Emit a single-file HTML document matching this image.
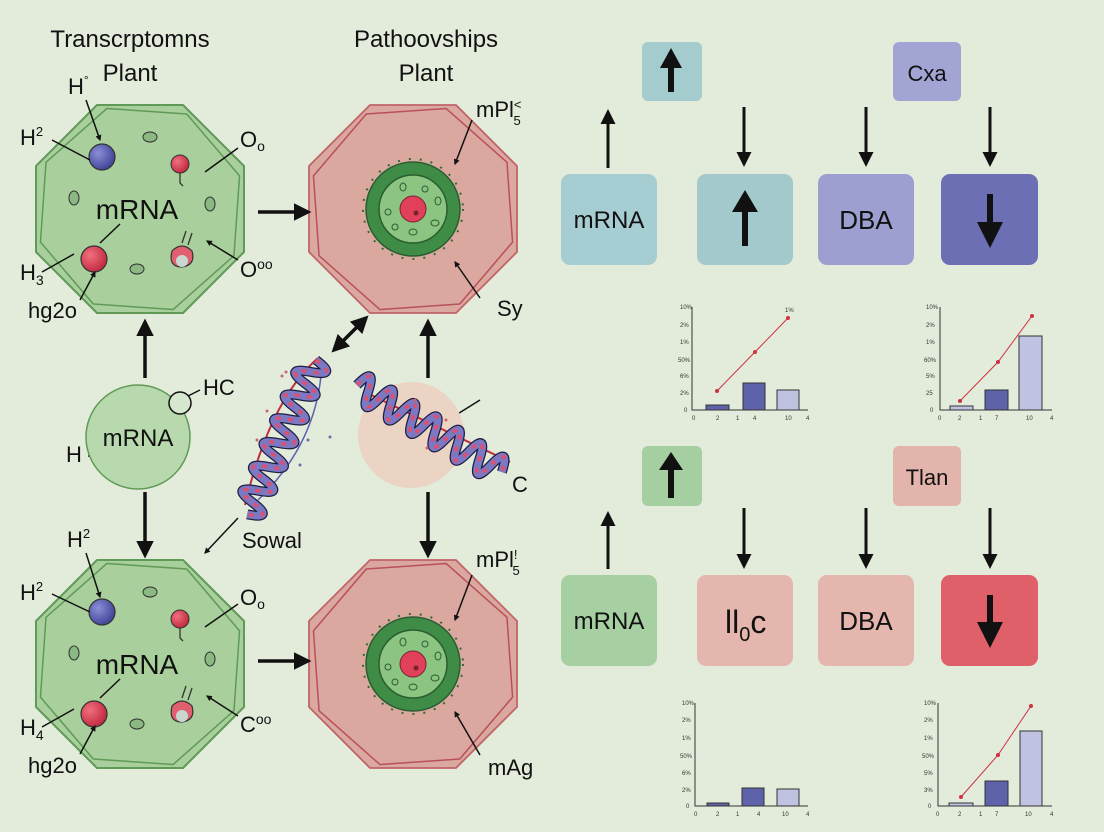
<!DOCTYPE html>
<html><head><meta charset="utf-8"><style>
html,body{margin:0;padding:0;background:#e3ebdb;}
svg{display:block;font-family:"Liberation Sans",sans-serif;}
</style></head><body>
<svg width="1104" height="832" viewBox="0 0 1104 832" xmlns="http://www.w3.org/2000/svg">
<defs>
<marker id="ah" viewBox="0 0 10 10" refX="8" refY="5" markerWidth="4" markerHeight="4" orient="auto-start-reverse"><path d="M0,0 L10,5 L0,10 z" fill="#111"/></marker>
<marker id="as" viewBox="0 0 10 10" refX="8" refY="5" markerWidth="5" markerHeight="5" orient="auto-start-reverse"><path d="M0,0 L10,5 L0,10 z" fill="#111"/></marker>
<radialGradient id="gb" cx="0.35" cy="0.35" r="0.7"><stop offset="0" stop-color="#8a8fd6"/><stop offset="1" stop-color="#3e4296"/></radialGradient>
<radialGradient id="gr" cx="0.35" cy="0.35" r="0.7"><stop offset="0" stop-color="#f07080"/><stop offset="1" stop-color="#c0283c"/></radialGradient>
<g id="gcell">
<polygon points="-43,-104 43,-104 104,-43 104,43 43,104 -43,104 -104,43 -104,-43" fill="#a9cf9c" stroke="#5f9a57" stroke-width="2" stroke-linejoin="round"/>
<polygon points="-40,-98 40,-98 97,-40 97,40 40,98 -40,98 -97,40 -97,-40" fill="none" stroke="#5f9a57" stroke-width="1.5" stroke-linejoin="round" transform="rotate(4)"/>
<circle cx="-38" cy="-52" r="13" fill="url(#gb)" stroke="#333" stroke-width="1.2"/>
<circle cx="40" cy="-45" r="9" fill="url(#gr)" stroke="#333" stroke-width="1"/>
<path d="M40,-36 v10 l3,3" stroke="#333" fill="none" stroke-width="1.3"/>
<circle cx="-46" cy="50" r="13" fill="url(#gr)" stroke="#333" stroke-width="1.2"/>
<path d="M32,42 q10,-10 20,0 q4,14 -10,16 q-14,0 -10,-16z" fill="#e06070" stroke="#333" stroke-width="1.2"/>
<circle cx="42" cy="52" r="6" fill="#c8d8d0"/>
<path d="M42,34 l4,-12 M48,36 l4,-12" stroke="#333" stroke-width="1.3"/>
<ellipse cx="10" cy="-72" rx="7" ry="5" fill="#8cb983" stroke="#333"/>
<ellipse cx="-66" cy="-11" rx="5" ry="7" fill="#8cb983" stroke="#333"/>
<ellipse cx="70" cy="-5" rx="5" ry="7" fill="#8cb983" stroke="#333"/>
<ellipse cx="-3" cy="60" rx="7" ry="5" fill="#8cb983" stroke="#333"/>
<text x="-3" y="10" font-size="28" text-anchor="middle" fill="#111">mRNA</text>
</g>
<g id="pcell">
<polygon points="-43,-104 43,-104 104,-43 104,43 43,104 -43,104 -104,43 -104,-43" fill="#dba8a0" stroke="#c06468" stroke-width="1.8" stroke-linejoin="round"/>
<polygon points="-40,-98 40,-98 97,-40 97,40 40,98 -40,98 -97,40 -97,-40" fill="none" stroke="#b8505a" stroke-width="1.5" stroke-linejoin="round" transform="rotate(-4)"/>
<circle r="50" fill="none" stroke="#2f6a35" stroke-width="2" stroke-dasharray="2 9"/>
<circle r="47" fill="#3f8c46" stroke="#2a5e30" stroke-width="1.5"/>
<circle r="34" fill="#8cc481" stroke="#2a5e30" stroke-width="1.5"/>
<circle r="13" fill="#e0405a" stroke="#7a2030"/>
<circle cx="3" cy="4" r="2.5" fill="#7a2030"/>
<ellipse cx="-10" cy="-22" rx="3" ry="4" fill="none" stroke="#2a5e30"/>
<ellipse cx="12" cy="-20" rx="3" ry="3" fill="none" stroke="#2a5e30"/>
<ellipse cx="25" cy="-8" rx="3" ry="4" fill="none" stroke="#2a5e30"/>
<ellipse cx="-25" cy="3" rx="3" ry="3" fill="none" stroke="#2a5e30"/>
<ellipse cx="-18" cy="18" rx="3" ry="3" fill="none" stroke="#2a5e30"/>
<ellipse cx="0" cy="23" rx="4" ry="3" fill="none" stroke="#2a5e30"/>
<ellipse cx="22" cy="14" rx="4" ry="3" fill="none" stroke="#2a5e30"/>
</g>
<g id="helix">
<path d="M0,0 q6.5,-28 13,0 t13,0 t13,0 t13,0 t13,0 t13,0 t13,0 t13,0 t13,0 t13,0 t13,0 t13,0 t13,0" fill="none" stroke="#1e1e40" stroke-width="10"/>
<path d="M0,0 q6.5,-28 13,0 t13,0 t13,0 t13,0 t13,0 t13,0 t13,0 t13,0 t13,0 t13,0 t13,0 t13,0 t13,0" fill="none" stroke="#7b78c4" stroke-width="7.5"/>
<path d="M0,0 q6.5,-28 13,0 t13,0 t13,0 t13,0 t13,0 t13,0 t13,0 t13,0 t13,0 t13,0 t13,0 t13,0 t13,0" fill="none" stroke="#dc5072" stroke-width="3.5" stroke-dasharray="5 7"/>
</g>
</defs>

<text x="130" y="47" font-size="24" text-anchor="middle" fill="#111">Transcrptomns</text>
<text x="130" y="81" font-size="24" text-anchor="middle" fill="#111">Plant</text>
<text x="426" y="47" font-size="24" text-anchor="middle" fill="#111">Pathoovships</text>
<text x="426" y="81" font-size="24" text-anchor="middle" fill="#111">Plant</text>

<use href="#gcell" x="140" y="209"/>
<use href="#gcell" x="140" y="664"/>
<use href="#pcell" x="413" y="209"/>
<use href="#pcell" x="413" y="664"/>

<g font-size="22" fill="#111">
<text x="68" y="94">H<tspan font-size="12" dy="-10">°</tspan></text>
<text x="20" y="145">H<tspan font-size="13" dy="-9">2</tspan></text>
<text x="240" y="147">O<tspan font-size="14" dy="4">o</tspan></text>
<text x="20" y="280">H<tspan font-size="14" dy="5">3</tspan></text>
<text x="28" y="318">hg2o</text>
<text x="240" y="277">O<tspan font-size="14" dy="-8">oo</tspan></text>
<text x="67" y="547">H<tspan font-size="13" dy="-9">2</tspan></text>
<text x="20" y="600">H<tspan font-size="13" dy="-9">2</tspan></text>
<text x="240" y="605">O<tspan font-size="14" dy="4">o</tspan></text>
<text x="20" y="735">H<tspan font-size="14" dy="5">4</tspan></text>
<text x="28" y="773">hg2o</text>
<text x="240" y="732">C<tspan font-size="14" dy="-8">oo</tspan></text>
<text x="476" y="117">mPl<tspan font-size="13" dy="-8">&lt;</tspan><tspan font-size="13" dx="-8" dy="16">5</tspan></text>
<text x="476" y="567">mPl<tspan font-size="13" dy="-8">!</tspan><tspan font-size="13" dx="-5" dy="16">5</tspan></text>
<text x="497" y="316">Sy</text>
<text x="488" y="775">mAg</text>
<text x="203" y="395">HC</text>
<text x="66" y="462">H</text>
<text x="512" y="492">C</text>
<text x="242" y="548">Sowal</text>
</g>
<g stroke="#111" stroke-width="1.5" fill="none">
<line x1="86" y1="100" x2="100" y2="140" marker-end="url(#ah)"/>
<line x1="52" y1="140" x2="90" y2="160"/>
<line x1="238" y1="148" x2="205" y2="172"/>
<line x1="42" y1="272" x2="74" y2="254"/>
<line x1="120" y1="224" x2="100" y2="243"/>
<line x1="80" y1="300" x2="95" y2="272" marker-end="url(#ah)"/>
<line x1="238" y1="260" x2="207" y2="241" marker-end="url(#ah)"/>
<line x1="86" y1="553" x2="100" y2="597" marker-end="url(#ah)"/>
<line x1="52" y1="594" x2="90" y2="612"/>
<line x1="238" y1="604" x2="205" y2="627"/>
<line x1="42" y1="727" x2="74" y2="709"/>
<line x1="120" y1="679" x2="100" y2="698"/>
<line x1="80" y1="754" x2="95" y2="726" marker-end="url(#ah)"/>
<line x1="238" y1="716" x2="207" y2="696" marker-end="url(#ah)"/>
<line x1="472" y1="120" x2="455" y2="164" marker-end="url(#ah)"/>
<line x1="472" y1="575" x2="455" y2="620" marker-end="url(#ah)"/>
<line x1="480" y1="298" x2="455" y2="262" marker-end="url(#ah)"/>
<line x1="480" y1="755" x2="455" y2="712" marker-end="url(#ah)"/>
<line x1="200" y1="390" x2="170" y2="405"/>
<line x1="88" y1="456" x2="106" y2="456"/><line x1="106" y1="456" x2="106" y2="462"/>
<line x1="480" y1="400" x2="440" y2="425"/>
<line x1="238" y1="518" x2="205" y2="553" marker-end="url(#ah)"/>
</g>

<circle cx="138" cy="437" r="52" fill="#b8d9ad" stroke="#5f9a57" stroke-width="1.5"/>
<circle cx="180" cy="403" r="11" fill="#d5e7cd" stroke="#111" stroke-width="1.5"/>
<text x="138" y="446" font-size="24" text-anchor="middle" fill="#111">mRNA</text>
<circle cx="411" cy="435" r="53" fill="#ecd4c4"/>

<path d="M318,358 Q270,400 245,505" stroke="#c0303c" stroke-width="2" fill="none"/>
<path d="M322,360 Q320,440 258,500" stroke="#5a60b0" stroke-width="1.5" fill="none"/>
<use href="#helix" transform="translate(316,360) rotate(114)"/>
<path d="M365,392 L510,462" stroke="#c0303c" stroke-width="2" fill="none"/>
<use href="#helix" transform="translate(357,385) rotate(31)"/>
<g fill="#d06070"><circle cx="282" cy="376" r="1.5"/><circle cx="286" cy="372" r="1.5"/><circle cx="267" cy="411" r="1.5"/><circle cx="257" cy="440" r="1.5"/><circle cx="415" cy="400" r="1.5"/><circle cx="446" cy="420" r="1.5"/><circle cx="427" cy="448" r="1.5"/></g>
<g fill="#6a70a8"><circle cx="330" cy="437" r="1.5"/><circle cx="308" cy="440" r="1.5"/><circle cx="300" cy="465" r="1.5"/></g>

<g stroke="#111" stroke-width="3.5" fill="none">
<line x1="145" y1="378" x2="145" y2="322" marker-end="url(#as)"/>
<line x1="145" y1="492" x2="145" y2="555" marker-end="url(#as)"/>
<line x1="428" y1="378" x2="428" y2="322" marker-end="url(#as)"/>
<line x1="428" y1="492" x2="428" y2="555" marker-end="url(#as)"/>
<line x1="258" y1="212" x2="308" y2="212" marker-end="url(#as)"/>
<line x1="258" y1="661" x2="308" y2="661" marker-end="url(#as)"/>
<line x1="334" y1="350" x2="366" y2="318" marker-start="url(#as)" marker-end="url(#as)"/>
</g>

<rect x="642" y="42" width="60" height="59" rx="6" fill="#a4cbce"/>
<rect x="893" y="42" width="68" height="59" rx="6" fill="#a2a5d3"/>
<text x="927" y="81" font-size="22" text-anchor="middle" fill="#111">Cxa</text>
<rect x="561" y="174" width="96" height="91" rx="9" fill="#a6cdd2"/>
<rect x="697" y="174" width="96" height="91" rx="9" fill="#a3c9cc"/>
<rect x="818" y="174" width="96" height="91" rx="9" fill="#9c9fcf"/>
<rect x="941" y="174" width="97" height="91" rx="9" fill="#6c6fb4"/>
<text x="609" y="228" font-size="24" text-anchor="middle" fill="#111">mRNA</text>
<text x="866" y="229" font-size="26" text-anchor="middle" fill="#111">DBA</text>
<rect x="642" y="446" width="60" height="60" rx="6" fill="#a5cfa0"/>
<rect x="893" y="446" width="68" height="60" rx="6" fill="#e2b4ab"/>
<text x="927" y="485" font-size="22" text-anchor="middle" fill="#111">Tlan</text>
<rect x="561" y="575" width="96" height="91" rx="9" fill="#a6d0a2"/>
<rect x="697" y="575" width="96" height="91" rx="9" fill="#e4b6ad"/>
<rect x="818" y="575" width="96" height="91" rx="9" fill="#e4b6ad"/>
<rect x="941" y="575" width="97" height="91" rx="9" fill="#e0606a"/>
<text x="609" y="629" font-size="24" text-anchor="middle" fill="#111">mRNA</text>
<text x="725" y="633" font-size="32" fill="#111">ll<tspan font-size="20" dy="8">0</tspan><tspan dy="-8">c</tspan></text>
<text x="866" y="630" font-size="26" text-anchor="middle" fill="#111">DBA</text>

<g stroke="#111" stroke-width="6" fill="none">
<line x1="671" y1="92" x2="671" y2="62"/>
<line x1="745" y1="246" x2="745" y2="206"/>
<line x1="990" y1="194" x2="990" y2="226"/>
<line x1="671" y1="498" x2="671" y2="466"/>
<line x1="990" y1="595" x2="990" y2="625"/>
</g>
<g fill="#111">
<polygon points="660,68 671,48 682,68"/>
<polygon points="732,212 745,190 758,212"/>
<polygon points="977,222 990,248 1003,222"/>
<polygon points="659,470 671,452 683,470"/>
<polygon points="977,622 990,648 1003,622"/>
</g>
<g stroke="#111" stroke-width="3" fill="none">
<line x1="608" y1="168" x2="608" y2="112" marker-end="url(#as)"/>
<line x1="744" y1="107" x2="744" y2="164" marker-end="url(#as)"/>
<line x1="866" y1="107" x2="866" y2="164" marker-end="url(#as)"/>
<line x1="990" y1="107" x2="990" y2="164" marker-end="url(#as)"/>
<line x1="608" y1="569" x2="608" y2="514" marker-end="url(#as)"/>
<line x1="744" y1="508" x2="744" y2="566" marker-end="url(#as)"/>
<line x1="866" y1="508" x2="866" y2="566" marker-end="url(#as)"/>
<line x1="990" y1="508" x2="990" y2="566" marker-end="url(#as)"/>
</g>

<g font-size="6" fill="#333" stroke-width="1">
<path d="M692,307 V410 H808" stroke="#333" fill="none"/>
<rect x="706" y="405" width="23" height="5" fill="#5e62a8" stroke="#333"/>
<rect x="743" y="383" width="22" height="27" fill="#5e62a8" stroke="#333"/>
<rect x="777" y="390" width="22" height="20" fill="#c0c2e2" stroke="#333"/>
<polyline points="717,391 755,352 788,318" stroke="#d03040" fill="none"/>
<circle cx="717" cy="391" r="2" fill="#d03040"/><circle cx="755" cy="352" r="2" fill="#d03040"/><circle cx="788" cy="318" r="2" fill="#d03040"/>
<text x="785" y="312">1%</text>
<text x="680" y="309">10%</text><text x="680" y="327">2%</text><text x="680" y="344">1%</text><text x="678" y="362">50%</text><text x="680" y="378">6%</text><text x="680" y="395">2%</text><text x="684" y="412">0</text>
<text x="692" y="420">0</text><text x="716" y="420">2</text><text x="736" y="420">1</text><text x="753" y="420">4</text><text x="785" y="420">10</text><text x="806" y="420">4</text>
<path d="M940,307 V410 H1052" stroke="#333" fill="none"/>
<rect x="950" y="406" width="23" height="4" fill="#c0c2e2" stroke="#333"/>
<rect x="985" y="390" width="23" height="20" fill="#5e62a8" stroke="#333"/>
<rect x="1019" y="336" width="23" height="74" fill="#c0c2e2" stroke="#333"/>
<polyline points="960,401 998,362 1032,316" stroke="#d03040" fill="none"/>
<circle cx="960" cy="401" r="2" fill="#d03040"/><circle cx="998" cy="362" r="2" fill="#d03040"/><circle cx="1032" cy="316" r="2" fill="#d03040"/>
<text x="926" y="309">10%</text><text x="926" y="327">2%</text><text x="926" y="344">1%</text><text x="924" y="362">60%</text><text x="926" y="378">5%</text><text x="926" y="395">25</text><text x="930" y="412">0</text>
<text x="938" y="420">0</text><text x="958" y="420">2</text><text x="979" y="420">1</text><text x="995" y="420">7</text><text x="1026" y="420">10</text><text x="1050" y="420">4</text>
<path d="M695,703 V806 H808" stroke="#333" fill="none"/>
<rect x="707" y="803" width="22" height="3" fill="#5e62a8" stroke="#333"/>
<rect x="742" y="788" width="22" height="18" fill="#5e62a8" stroke="#333"/>
<rect x="777" y="789" width="22" height="17" fill="#c0c2e2" stroke="#333"/>
<text x="682" y="705">10%</text><text x="682" y="722">2%</text><text x="682" y="740">1%</text><text x="680" y="758">50%</text><text x="682" y="775">6%</text><text x="682" y="792">2%</text><text x="686" y="808">0</text>
<text x="694" y="816">0</text><text x="716" y="816">2</text><text x="736" y="816">1</text><text x="757" y="816">4</text><text x="782" y="816">10</text><text x="806" y="816">4</text>
<path d="M938,703 V806 H1052" stroke="#333" fill="none"/>
<rect x="949" y="803" width="24" height="3" fill="#c0c2e2" stroke="#333"/>
<rect x="985" y="781" width="23" height="25" fill="#5e62a8" stroke="#333"/>
<rect x="1020" y="731" width="22" height="75" fill="#c0c2e2" stroke="#333"/>
<polyline points="961,797 998,755 1031,706" stroke="#d03040" fill="none"/>
<circle cx="961" cy="797" r="2" fill="#d03040"/><circle cx="998" cy="755" r="2" fill="#d03040"/><circle cx="1031" cy="706" r="2" fill="#d03040"/>
<text x="924" y="705">10%</text><text x="924" y="722">2%</text><text x="924" y="740">1%</text><text x="922" y="758">50%</text><text x="924" y="775">5%</text><text x="924" y="792">3%</text><text x="928" y="808">0</text>
<text x="936" y="816">0</text><text x="958" y="816">2</text><text x="979" y="816">1</text><text x="995" y="816">7</text><text x="1025" y="816">10</text><text x="1050" y="816">4</text>
</g>
</svg>
</body></html>
